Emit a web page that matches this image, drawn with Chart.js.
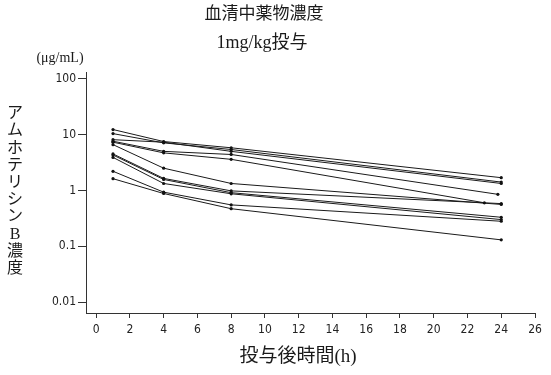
<!DOCTYPE html>
<html>
<head>
<meta charset="utf-8">
<script src="https://cdn.jsdelivr.net/npm/chart.js@4.4.0/dist/chart.umd.min.js"></script>
<style>
  html, body { margin: 0; padding: 0; background: #fff; }
</style>
</head>
<body>
<canvas id="chart" width="551" height="375"></canvas>
<script>
// sampling times (h); a couple of patients were last sampled a bit early
const hours = [1, 4, 8, 24];
const lastHours = [24, 24, 24, 23.8, 23, 24, 24, 24, 24, 24, 24];

// serum concentration per patient (ug/mL)
const p1 = [12.3, 7.5, 5.8, 1.69];
const p2 = [10.4, 7.1, 5.4, 1.41];
const p3 = [8.1, 7.3, 5.0, 1.33];
const p4 = [7.6, 5.0, 4.4, 0.85];
const p5 = [7.3, 4.7, 3.6, 0.60];
const p6 = [6.6, 2.5, 1.33, 0.56];
const p7 = [4.5, 1.64, 0.98, 0.58];
const p8 = [4.3, 1.57, 0.91, 0.33];
const p9 = [3.9, 1.33, 0.87, 0.30];
const p10 = [2.2, 0.93, 0.55, 0.28];
const p11 = [1.62, 0.88, 0.47, 0.13];
const patients = [p1, p2, p3, p4, p5, p6, p7, p8, p9, p10, p11];

const xTicks = [0, 2, 4, 6, 8, 10, 12, 14, 16, 18, 20, 22, 24, 26];
const yTicks = [0.01, 0.1, 1, 10, 100];
const yTickLabels = ["0.01", "0.1", "1", "10", "100"];

const titleLines = ["血清中薬物濃度", "1mg/kg投与"];
const unitLabel = "(\u03bcg/mL)";
const yTitle = "アムホテリシンB濃度";
const xTitle = "投与後時間(h)";

const serif = "'Liberation Serif', 'Noto Sans CJK JP', serif";
const narrow = "'Liberation Sans Narrow', 'DejaVu Sans Condensed', sans-serif";

const datasets = patients.map((vals, i) => ({
    data: vals.map((v, j) => ({ x: j === 3 ? lastHours[i] : hours[j], y: v })),
    borderColor: "#1a1a1a",
    borderWidth: 1,
    pointBackgroundColor: "#111",
    pointBorderColor: "#111",
    pointRadius: 1.6,
    pointBorderWidth: 0,
    fill: false,
    tension: 0
}));

const textPlugin = {
    id: "texts",
    afterDraw(chart) {
        const ctx = chart.ctx;
        ctx.save();
        ctx.fillStyle = "#1a1a1a";
        ctx.textAlign = "center";
        ctx.textBaseline = "middle";
        ctx.font = "17px " + serif;
        ctx.fillText(titleLines[0], 264, 15);
        ctx.font = "18px " + serif;
        ctx.fillText(titleLines[1], 262, 43);
        ctx.font = "14px " + serif;
        ctx.fillText(unitLabel, 60, 58);
        ctx.font = "16px " + serif;
        [...yTitle].forEach((ch, i) => {
            ctx.fillText(ch, 15, 114 + i * 17.2);
        });
        ctx.font = "19px " + serif;
        ctx.fillText(xTitle, 298, 357);
        ctx.restore();
    }
};

new Chart(document.getElementById("chart"), {
    type: "line",
    data: { datasets: datasets },
    plugins: [textPlugin],
    options: {
        responsive: false,
        animation: false,
        layout: { padding: { top: 72, right: 16, left: 0, bottom: 0 } },
        plugins: {
            legend: { display: false },
            tooltip: { enabled: false }
        },
        scales: {
            x: {
                type: "linear",
                min: -0.6,
                max: 26,
                afterFit: (scale) => { scale.height = 62; },
                afterBuildTicks: (scale) => { scale.ticks = xTicks.map(v => ({ value: v })); },
                border: { display: true, color: "#333", width: 1 },
                grid: { display: true, drawOnChartArea: false, tickLength: 5, color: "#333" },
                ticks: {
                    color: "#222",
                    padding: 5,
                    font: { family: narrow, size: 12 },
                    maxRotation: 0,
                    autoSkip: false
                }
            },
            y: {
                type: "logarithmic",
                min: 0.00637,
                max: 132,
                afterFit: (scale) => { scale.width = 86; },
                afterBuildTicks: (scale) => { scale.ticks = yTicks.map(v => ({ value: v })); },
                border: { display: true, color: "#333", width: 1 },
                grid: { display: true, drawOnChartArea: false, tickLength: 8, color: "#333" },
                ticks: {
                    color: "#222",
                    padding: 2,
                    font: { family: narrow, size: 12 },
                    autoSkip: false,
                    callback: (value) => yTickLabels[yTicks.indexOf(value)]
                }
            }
        }
    }
});
</script>
</body>
</html>
